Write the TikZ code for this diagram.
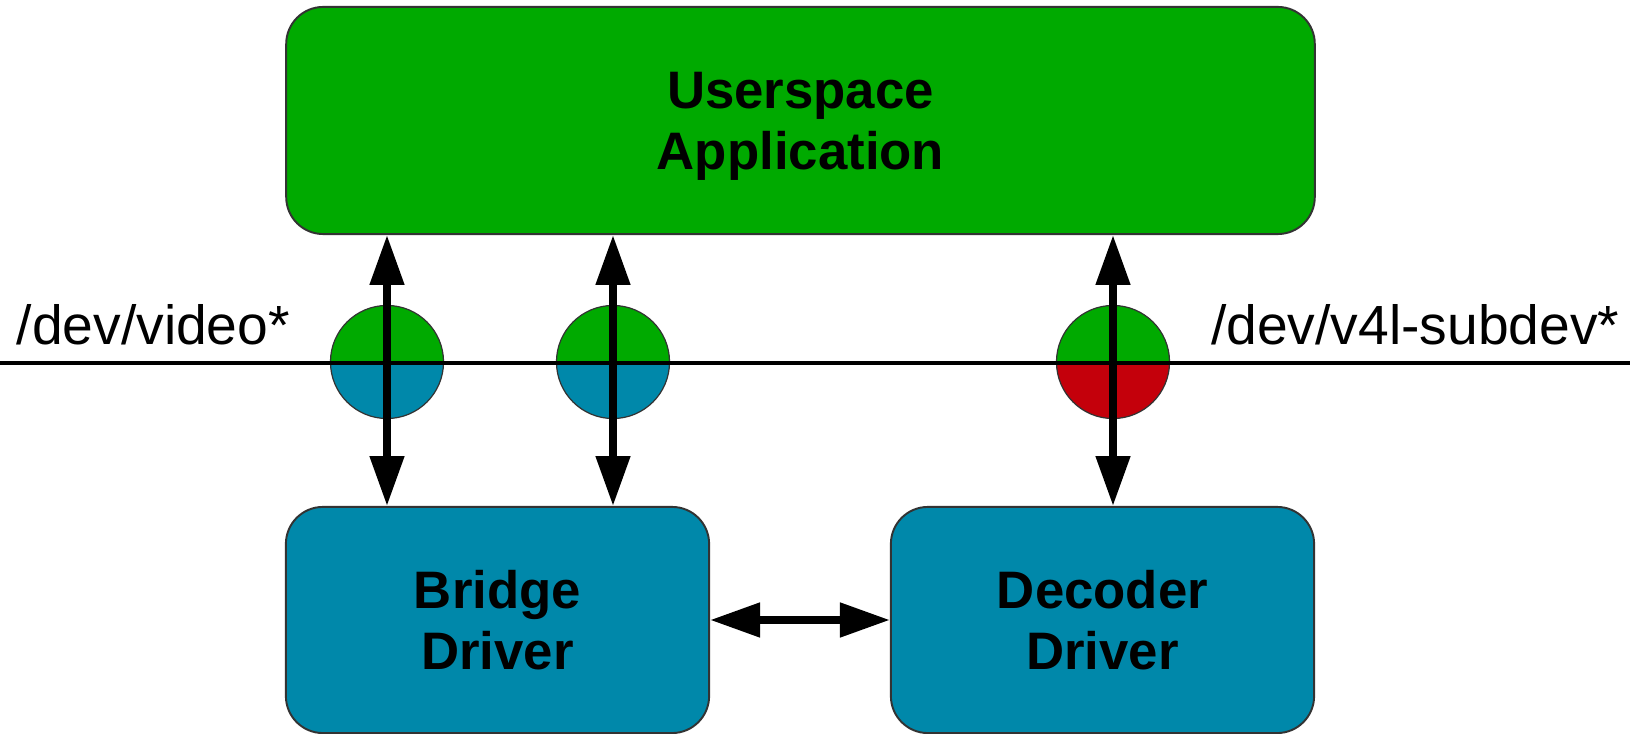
\documentclass[tikz,border=0pt]{standalone}
\usepackage{fontspec}
\setmainfont{Liberation Sans}
\usepackage{tikz}
\usetikzlibrary{arrows.meta}

\definecolor{usergreen}{RGB}{0,170,0}
\definecolor{drvblue}{RGB}{0,136,170}
\definecolor{devred}{RGB}{196,0,11}

\tikzset{
    block/.style={draw=black!80, line width=0.55pt, rounded corners=0.37cm, text depth=0pt,
        align=center, font=\fontsize{15pt}{17.4pt}\selectfont\bfseries},
    devnode/.style={circle, draw=black!80, line width=0.35pt, minimum size=1.13cm, inner sep=0pt},
    halves/.style 2 args={path picture={
        \fill[#1] (path picture bounding box.west) rectangle (path picture bounding box.north east);
        \fill[#2] (path picture bounding box.west) rectangle (path picture bounding box.south east);}},
    dblarrow/.style={line width=2.2pt, {Triangle[length=14.2pt,width=9.4pt]}-{Triangle[length=14.2pt,width=9.4pt]}},
    devlabel/.style={font=\fontsize{15.7pt}{18pt}\selectfont, inner sep=0pt}
}

\begin{document}
\begin{tikzpicture}[x=0.01cm, y=-0.01cm]
            \useasboundingbox (0,0) rectangle (1630,734);

            % Boxes
            \node[block, fill=usergreen, minimum width=10.28cm, minimum height=2.27cm] (user) at (800.5,120.5) {Userspace\\Application};
            \node[block, fill=drvblue, minimum width=4.23cm, minimum height=2.26cm] (bridge) at (497.5,620) {Bridge\\Driver};
            \node[block, fill=drvblue, minimum width=4.23cm, minimum height=2.26cm] (decoder) at (1102.5,620) {Decoder\\Driver};

            % Device nodes
            \node[devnode, halves={usergreen}{drvblue}] (video1) at (387,362) {};
            \node[devnode, halves={usergreen}{drvblue}] (video2) at (613,362) {};
            \node[devnode, halves={usergreen}{devred}] (subdev) at (1113,362) {};

            % The separating line
            \coordinate (lineL) at (0,363);
            \coordinate (lineR) at (1630,363);
            \draw[line width=1.2pt] (lineL) -- (lineR);

            \node[devlabel, anchor=base west] (lblvideo) at (16,345) {/dev/video*};
            \node[devlabel, anchor=base east] (lblsubdev) at (1620,345) {/dev/v4l-subdev*};

            % Arrows
            \draw[dblarrow] (user.south -| video1) -- (bridge.north -| video1);
            \draw[dblarrow] (user.south -| video2) -- (bridge.north -| video2);
            \draw[dblarrow] (user.south -| subdev) -- (decoder.north -| subdev);
            \draw[dblarrow] (bridge.east) -- (decoder.west);

        \end{tikzpicture}
\end{document}
